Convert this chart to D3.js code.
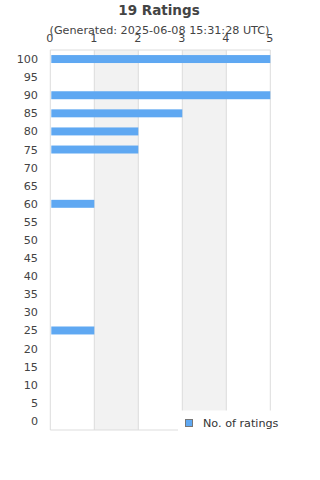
<!DOCTYPE html>
<html><head><meta charset="utf-8">
<script src="https://cdn.jsdelivr.net/npm/d3@7"></script>
<style>body{margin:0;background:#fff;}svg{display:block;font-family:"DejaVu Sans",sans-serif;}</style>
</head><body><svg id="c" width="320" height="480"></svg>
<script>
const categories = ["100","95","90","85","80","75","70","65","60","55","50","45","40","35","30","25","20","15","10","5","0"];
const ratings = [5,0,5,3,2,2,0,0,1,0,0,0,0,0,0,1,0,0,0,0,0];
const xTicks = [0,1,2,3,4,5];
const titleText = "19 Ratings";
const subtitleText = "(Generated: 2025-06-08 15:31:28 UTC)";
const legendLabel = "No. of ratings";

const svg = d3.select("#c");
const L = 50.3, R = 270.3, T = 50, B = 430;
const x = d3.scaleLinear().domain([0,5]).range([L,R]);
const y = d3.scaleBand().domain(categories).range([T,B]).paddingInner(0.56).paddingOuter(0.28);

// alternating bands
svg.selectAll("rect.band").data([1,3]).join("rect")
  .attr("x", d=>x(d)).attr("width", d=>x(d+1)-x(d))
  .attr("y", T).attr("height", B-T).attr("fill","#f2f2f2");
// grid lines
svg.selectAll("line.grid").data(xTicks).join("line")
  .attr("x1", d=>x(d)).attr("x2", d=>x(d)).attr("y1", T).attr("y2", B)
  .attr("stroke","#dddddd").attr("stroke-width",1);
svg.append("line").attr("x1",L).attr("x2",R).attr("y1",T).attr("y2",T).attr("stroke","#dddddd");
svg.append("line").attr("x1",L).attr("x2",R).attr("y1",B).attr("y2",B).attr("stroke","#dddddd");

// bars
svg.selectAll("rect.bar").data(categories.map((c,i)=>({c,v:ratings[i]})).filter(d=>d.v>0)).join("rect")
  .attr("x", x(0)+1).attr("y", d=>y(d.c)).attr("height", y.bandwidth())
  .attr("width", d=>x(d.v)-x(0)-1).attr("fill","#5fa8f2");

// y labels
svg.selectAll("text.yl").data(categories).join("text")
  .attr("x", 38).attr("y", d=>y(d)+y.bandwidth()/2+4)
  .attr("text-anchor","end").attr("font-size",11.2).attr("fill","#444").text(d=>d);

// title
svg.append("text").attr("x",159).attr("y",15).attr("text-anchor","middle")
  .attr("font-size",13.5).attr("font-weight","bold").attr("fill","#444").text(titleText);
svg.append("text").attr("x",159.5).attr("y",33.5).attr("text-anchor","middle")
  .attr("font-size",11.2).attr("fill","#444").text(subtitleText);
// x tick labels
svg.selectAll("text.xl").data(xTicks).join("text")
  .attr("x", d=>x(d)-0.5).attr("y", 41.5).attr("text-anchor","middle")
  .attr("font-size",11.2).attr("fill","#444").text(d=>d);

// legend
svg.append("rect").attr("x",178).attr("y",410.5).attr("width",135).attr("height",22).attr("fill","#fff");
svg.append("rect").attr("x",185.5).attr("y",419.5).attr("width",7).attr("height",7)
  .attr("fill","#5fa8f2").attr("stroke","#777").attr("stroke-width",1);
svg.append("text").attr("x",203).attr("y",426.5).attr("font-size",11.2).attr("fill","#333").text(legendLabel);
</script></body></html>
